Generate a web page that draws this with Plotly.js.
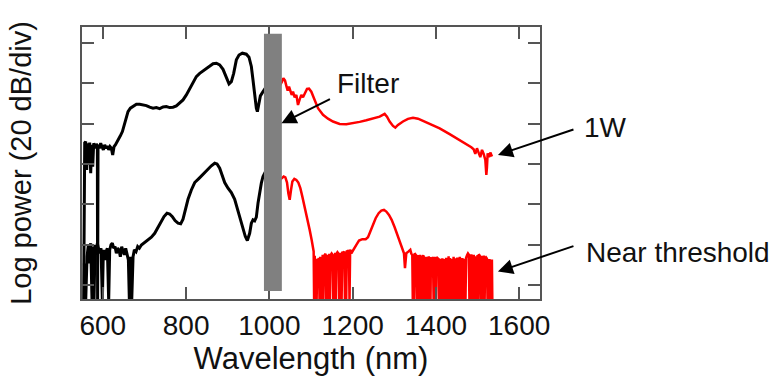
<!DOCTYPE html>
<html>
<head>
<meta charset="utf-8">
<script src="https://cdn.plot.ly/plotly-3.0.1.min.js"></script>
<style>html,body{margin:0;padding:0;background:#fff;}#chart{width:778px;height:377px;}</style>
</head>
<body>
<div id="chart"></div>
<script>
// ---- Data (wavelength in nm, log power in dB) ----
const xTicks = [600, 800, 1000, 1200, 1400, 1600];
const yTicks = [0, 20, 40, 60, 80, 100, 120];

// 1 W spectrum, visible part below the filter (black)
const wl1W_black = [554.0, 556.5, 558.9, 561.3, 563.7, 566.1, 568.5, 570.9, 573.3, 575.7, 578.1, 581.3, 584.5, 586.9, 587.5, 588.5, 591.7, 594.9, 598.1, 601.3, 604.5, 607.7, 610.9, 614.1, 617.3, 620.5, 623.7, 626.9, 630.1, 633.3, 637.3, 642.1, 647.0, 652.5, 655.0, 660.5, 666.2, 672.6, 680.6, 688.6, 696.6, 704.6, 712.6, 720.6, 728.6, 736.6, 744.6, 752.6, 760.6, 768.6, 776.6, 784.6, 792.6, 800.6, 808.6, 816.6, 824.6, 832.7, 840.7, 848.7, 856.7, 864.7, 872.7, 880.7, 888.7, 896.7, 903.1, 908.7, 914.3, 920.7, 927.1, 935.1, 944.7, 951.1, 956.7, 960.7, 964.7, 968.7, 971.2, 974.4, 978.4, 984.8, 990.0];
const pw1W_black = [-8, 70.5, 71.1, 57.1, 70.3, 60.4, 70.6, 55.4, 69.5, 58.7, 70.3, 67.8, 70.0, 69.0, -8, 69.5, 67.8, 70.3, 68.6, 67.0, 69.5, 67.8, 69.0, 67.0, 68.6, 67.8, 64.5, 68.6, 69.5, 70.6, 72.0, 74.0, 76.1, 80.2, 82.7, 86.0, 87.7, 88.8, 89.7, 89.7, 89.5, 89.0, 88.2, 87.7, 88.0, 87.5, 88.3, 88.5, 88.0, 88.2, 88.8, 90.2, 91.8, 94.3, 97.6, 100.9, 103.4, 105.0, 106.2, 107.2, 108.7, 109.8, 110.0, 109.2, 107.0, 103.4, 99.8, 100.9, 105.0, 111.7, 114.1, 115.0, 114.5, 113.0, 108.4, 101.7, 94.3, 87.7, 86.0, 90.2, 93.8, 95.9, 97.5];

// 1 W spectrum above the filter (red)
const wl1W_red = [1024.0, 1026.3, 1030.3, 1033.6, 1037.6, 1040.8, 1044.0, 1047.2, 1050.4, 1053.6, 1056.8, 1060.8, 1064.8, 1068.8, 1072.8, 1076.8, 1080.8, 1085.6, 1090.4, 1095.2, 1100.8, 1108.8, 1116.8, 1128.8, 1140.8, 1152.8, 1168.8, 1184.8, 1200.9, 1216.9, 1232.9, 1248.9, 1264.9, 1276.9, 1282.5, 1288.9, 1296.9, 1302.5, 1308.9, 1320.9, 1332.9, 1345.0, 1357.0, 1369.0, 1389.0, 1409.0, 1433.0, 1453.0, 1473.0, 1485.0, 1490.6, 1494.6, 1498.6, 1502.6, 1506.6, 1510.7, 1514.7, 1518.7, 1521.1, 1522.5, 1524.3, 1527.5, 1530.7, 1534.7];
const pw1W_red = [98.5, 99.3, 100.9, 102.6, 101.4, 98.8, 96.4, 98.4, 96.8, 94.3, 95.9, 93.1, 94.3, 89.3, 92.1, 94.3, 93.1, 95.4, 97.3, 97.4, 95.9, 91.8, 87.7, 84.4, 82.5, 81.1, 79.9, 79.7, 80.2, 80.9, 81.7, 82.5, 83.5, 84.9, 83.5, 81.1, 78.9, 78.1, 79.4, 81.1, 82.4, 83.0, 82.5, 81.4, 79.7, 77.7, 74.8, 72.3, 70.0, 68.3, 67.3, 65.0, 67.8, 65.7, 63.4, 67.0, 65.0, 62.0, 54.6, 58.0, 65.3, 63.4, 65.7, 63.7];

// Near-threshold spectrum below the filter (black)
const wlTh_black = [555.7, 558.9, 562.1, 565.3, 568.5, 570.9, 574.1, 576.5, 578.9, 581.3, 584.5, 586.9, 589.3, 592.5, 595.7, 598.9, 601.3, 604.5, 607.7, 610.9, 614.1, 616.5, 619.7, 622.9, 626.1, 629.3, 632.5, 635.7, 638.9, 642.1, 645.3, 648.5, 651.7, 654.9, 658.1, 661.4, 663.8, 666.2, 669.4, 672.6, 675.8, 679.8, 683.8, 687.8, 692.6, 700.6, 708.6, 716.6, 724.6, 732.6, 740.6, 747.0, 754.2, 760.6, 767.0, 773.4, 780.6, 787.0, 792.6, 798.2, 804.6, 812.6, 820.7, 831.1, 840.7, 850.3, 860.7, 868.7, 874.3, 880.7, 887.1, 892.7, 900.7, 908.7, 916.7, 923.1, 930.3, 936.7, 942.3, 947.1, 952.7, 956.7, 960.7, 964.7, 968.7, 972.7, 976.7, 980.7, 984.7, 990.0];
const pwTh_black = [10.7, -8, 14.0, 19.9, 10.7, 20.7, -8, 19.0, -8, 19.9, 14.9, 20.7, 18.2, 15.7, 18.2, -8, 17.4, 12.4, 16.5, 18.2, -8, 17.4, 19.9, 20.7, 18.2, 19.0, 15.7, 18.2, 17.4, 14.0, 19.0, 16.5, 14.9, 18.2, 15.7, 12.4, -8, 14.0, -8, 14.0, 17.4, 16.5, 19.0, 18.2, 19.8, 21.0, 22.3, 23.7, 25.6, 28.6, 31.4, 33.9, 35.6, 35.2, 33.9, 31.9, 30.6, 30.3, 32.6, 37.2, 42.5, 47.1, 50.8, 52.9, 54.9, 57.1, 59.1, 60.4, 60.0, 57.9, 54.6, 50.8, 48.0, 45.8, 42.5, 38.0, 32.3, 27.6, 24.0, 22.0, 25.6, 30.6, 32.3, 31.8, 33.6, 40.5, 46.3, 50.5, 53.8, 56.0];

// Near-threshold spectrum above the filter (red)
const wlTh_red = [1024.0, 1026.3, 1030.3, 1034.4, 1038.4, 1042.4, 1045.6, 1048.8, 1052.0, 1055.2, 1060.0, 1064.8, 1069.6, 1074.4, 1079.2, 1084.8, 1090.4, 1096.8, 1101.6, 1106.4,
  1107.5, 1109.0, 1110.5, 1112.0, 1113.5, 1115.0, 1117.0, 1119.0, 1120.5, 1122.0, 1123.5, 1125.0, 1126.5, 1128.0, 1129.5, 1131.0, 1133.0, 1135.0, 1136.5, 1138.0, 1139.5, 1141.0, 1142.5, 1144.0, 1145.5, 1147.0, 1149.5, 1152.0, 1153.5, 1155.0, 1156.5, 1158.0, 1159.5, 1161.0, 1163.5, 1166.0, 1167.5, 1169.0, 1170.5, 1172.0, 1173.5, 1175.0, 1177.5, 1180.0, 1181.5, 1183.0, 1184.5, 1186.0, 1188.5, 1191.0, 1192.5, 1194.0,
  1196.9, 1202.5, 1208.9, 1215.3, 1223.3, 1231.3, 1236.9, 1242.5, 1248.9, 1255.3, 1262.5, 1268.9, 1275.3, 1280.9, 1287.3, 1293.7, 1300.9, 1307.3, 1313.0, 1319.3, 1323.3, 1325.7, 1328.9, 1333.7, 1338.5, 1341.0, 1343.3,
  1344.5, 1346.0, 1347.5, 1349.0, 1351.0, 1353.0, 1354.5, 1356.0, 1357.5, 1359.0, 1360.5, 1362.0, 1363.5, 1365.0, 1366.5, 1367.5, 1369.5, 1371.0, 1372.5, 1374.0, 1375.5, 1377.0, 1378.5, 1380.0, 1381.5, 1383.0, 1384.5, 1386.0, 1387.0, 1388.0, 1390.0, 1393.0, 1394.5, 1396.0, 1397.5, 1399.0, 1400.5, 1401.5, 1404.0, 1406.5,
  1408.0, 1409.5, 1411.0, 1412.5, 1414.0, 1415.5, 1417.0, 1418.5, 1420.0, 1421.5, 1423.0, 1424.5, 1426.0, 1427.5, 1429.0, 1430.5, 1432.0, 1433.5, 1435.0, 1436.5, 1438.0, 1439.5, 1441.0, 1442.5, 1444.0, 1445.5, 1447.0, 1448.5, 1450.0, 1451.5, 1453.0, 1454.5, 1456.0, 1457.5, 1459.0, 1460.5, 1462.0, 1463.5, 1465.0, 1466.5, 1468.0, 1469.5, 1471.0, 1472.5,
  1475.0, 1477.0, 1479.0, 1480.5, 1482.0, 1483.5, 1485.0, 1486.5, 1488.0, 1489.5, 1491.0, 1492.5, 1494.0, 1495.5, 1497.0, 1498.5, 1500.0, 1501.5, 1503.0, 1505.0, 1506.5, 1508.0, 1509.5, 1511.0, 1512.5, 1514.0, 1515.5, 1517.0, 1518.5, 1520.5, 1522.5, 1524.0, 1525.5, 1527.0, 1528.5, 1530.0, 1531.5, 1533.0, 1534.5, 1535.5];
const pwTh_red = [51.5, 52.4, 53.0, 53.8, 53.4, 50.8, 45.5, 42.2, 47.1, 51.3, 52.6, 52.1, 50.8, 48.0, 43.8, 38.9, 33.1, 27.3, 22.3, 16.6,
  -8, 14.5, -8, 13.0, -8, 12.0, 12.5, 13.2, -8, 14.0, -8, 13.5, -8, 15.0, -8, 14.2, 14.8, 15.5, -8, 15.0, -8, 14.6, -8, 15.4, -8, 14.8, 15.6, 14.9, -8, 15.2, -8, 16.0, -8, 15.4, 16.2, 15.5, -8, 16.0, -8, 15.3, -8, 16.4, 15.8, 16.6, -8, 16.0, -8, 17.0, 16.5, 17.2, -8, 17.5,
  15.7, 17.4, 19.9, 22.0, 22.7, 22.7, 23.7, 26.5, 29.8, 33.1, 35.6, 36.9, 37.2, 36.4, 34.7, 32.3, 28.6, 24.8, 21.5, 18.2, 15.7, 8.3, 15.7, 16.5, 17.4, 15.5, 14.9,
  -8, 15.2, -8, 15.7, 15.0, 14.6, -8, 14.8, -8, 14.2, -8, 15.0, -8, 14.5, -8, 14.0, 14.6, 13.8, -8, 13.5, -8, 14.0, -8, 13.2, -8, 14.2, -8, 13.8, -8, 13.5, 13.0, 13.6, -8, 14.0, -8, 13.4, -8, 13.8, 13.2, 12.8,
  -8, 13.0, -8, 12.5, -8, 13.2, -8, 12.0, -8, 12.8, -8, 13.5, -8, 12.6, -8, 14.2, -8, 13.4, -8, 12.2, -8, 13.0, -8, 14.0, -8, 13.2, -8, 12.4, -8, 13.6, -8, 12.8, -8, 13.9, -8, 12.6, -8, 13.4, -8, 12.1, -8, 13.0, -8, 13.5,
  14.8, 15.6, 15.0, -8, 14.6, -8, 15.2, -8, 14.4, -8, 15.0, -8, 14.2, -8, 13.6, -8, 14.8, -8, 15.2, 14.4, 14.0, -8, 14.5, -8, 13.8, -8, 14.6, -8, 13.2, 13.6, 13.0, -8, 12.4, -8, 12.8, -8, 12.0, -8, 12.6, -8];

// Filter band (nm) and annotation labels
const filterBand = [987, 1030];
const labels = ['Filter', '1W', 'Near threshold'];

const FONT = 'Arial, "Liberation Sans", sans-serif';
const axisCol = '#555555';

const traces = [
  {x: wl1W_black, y: pw1W_black, mode: 'lines', line: {color: '#000000', width: 3}, hoverinfo: 'skip'},
  {x: wl1W_red, y: pw1W_red, mode: 'lines', line: {color: '#ff0000', width: 2.5}, hoverinfo: 'skip'},
  {x: wlTh_black, y: pwTh_black, mode: 'lines', line: {color: '#000000', width: 3}, hoverinfo: 'skip'},
  {x: wlTh_red, y: pwTh_red, mode: 'lines', line: {color: '#ff0000', width: 2.5}, hoverinfo: 'skip'}
];

const arrowBase = {text: '', showarrow: true, arrowhead: 2, arrowsize: 1.5, arrowwidth: 2, arrowcolor: '#000', xref: 'x', yref: 'y', axref: 'pixel', ayref: 'pixel'};
const labelFont = {family: FONT, size: 28, color: '#111'};

const layout = {
  width: 778, height: 377,
  margin: {l: 82, r: 238, t: 27, b: 78, pad: 0},
  paper_bgcolor: '#ffffff', plot_bgcolor: '#ffffff',
  showlegend: false,
  font: {family: FONT, color: '#111111'},
  xaxis: {
    range: [550, 1650], tickvals: xTicks, ticktext: xTicks.map(String),
    ticks: 'inside', ticklen: 12, tickwidth: 2, tickcolor: axisCol,
    showline: true, linecolor: axisCol, linewidth: 2, mirror: 'ticks',
    showgrid: false, zeroline: false,
    tickfont: {family: FONT, size: 28, color: '#111111'},
    title: {text: 'Wavelength (nm)', font: {family: FONT, size: 31, color: '#111111'}, standoff: 7}
  },
  yaxis: {
    range: [-7, 128], tickvals: yTicks, showticklabels: false,
    ticks: 'inside', ticklen: 12, tickwidth: 2, tickcolor: axisCol,
    showline: true, linecolor: axisCol, linewidth: 2, mirror: 'ticks',
    showgrid: false, zeroline: false,
    title: {text: 'Log power (20 dB/div)', font: {family: FONT, size: 29, color: '#111111'}, standoff: 40}
  },
  shapes: [{type: 'rect', xref: 'x', yref: 'y', x0: filterBand[0], x1: filterBand[1], y0: -3, y1: 124.6,
            fillcolor: '#808080', line: {width: 0}, layer: 'above'}],
  annotations: [
    {x: 1238, y: 99.8, xref: 'x', yref: 'y', text: labels[0], showarrow: false, font: labelFont, xanchor: 'center', yanchor: 'middle'},
    {x: 1.144, y: 0.632, xref: 'paper', yref: 'paper', text: labels[1], showarrow: false, font: labelFont, xanchor: 'center', yanchor: 'middle'},
    {x: 1.302, y: 0.171, xref: 'paper', yref: 'paper', text: labels[2], showarrow: false, font: labelFont, xanchor: 'center', yanchor: 'middle'},
    Object.assign({}, arrowBase, {x: 1029, y: 80.2, ax: 50, ay: -25}),
    Object.assign({}, arrowBase, {x: 1549, y: 64.5, ax: 77, ay: -26}),
    Object.assign({}, arrowBase, {x: 1549, y: 6.6, ax: 77, ay: -26})
  ]
};

Plotly.newPlot('chart', traces, layout, {staticPlot: true, displayModeBar: false});
</script>
</body>
</html>
